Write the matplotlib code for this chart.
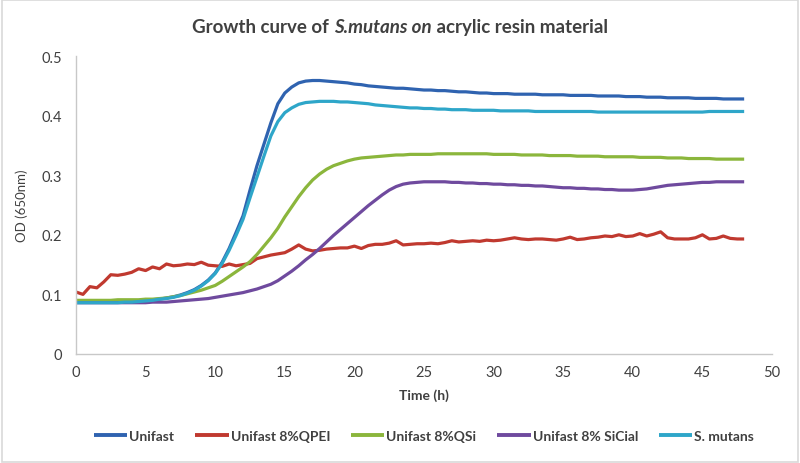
import matplotlib.pyplot as plt
from matplotlib.patches import Rectangle

# ---- data (0.5 h grid) ----
time_h = [i * 0.5 for i in range(97)]

unifast = [
    0.087, 0.087, 0.087, 0.087, 0.087, 0.087, 0.087, 0.088, 0.088, 0.089,
    0.090, 0.091, 0.092, 0.094, 0.096, 0.099, 0.103, 0.108, 0.115, 0.124,
    0.136, 0.154, 0.177, 0.204, 0.232, 0.275, 0.316, 0.352, 0.388, 0.420,
    0.438, 0.448, 0.455, 0.458, 0.459, 0.459, 0.458, 0.457, 0.456, 0.455,
    0.453, 0.452, 0.450, 0.449, 0.448, 0.447, 0.446, 0.446, 0.445, 0.444,
    0.443, 0.443, 0.442, 0.442, 0.441, 0.440, 0.440, 0.439, 0.438, 0.438,
    0.437, 0.437, 0.437, 0.436, 0.436, 0.436, 0.436, 0.435, 0.435, 0.435,
    0.435, 0.434, 0.434, 0.434, 0.434, 0.433, 0.433, 0.433, 0.433, 0.432,
    0.432, 0.432, 0.431, 0.431, 0.431, 0.430, 0.430, 0.430, 0.430, 0.429,
    0.429, 0.429, 0.429, 0.428, 0.428, 0.428, 0.428,
]

qpei = [
    0.104, 0.100, 0.113, 0.111, 0.121, 0.133, 0.132, 0.134, 0.137, 0.143,
    0.140, 0.146, 0.143, 0.151, 0.148, 0.149, 0.151, 0.150, 0.154, 0.149,
    0.148, 0.147, 0.151, 0.148, 0.150, 0.152, 0.160, 0.163, 0.166, 0.168,
    0.170, 0.176, 0.183, 0.176, 0.173, 0.174, 0.176, 0.177, 0.178, 0.178,
    0.181, 0.177, 0.182, 0.184, 0.184, 0.186, 0.190, 0.183, 0.184, 0.185,
    0.185, 0.186, 0.185, 0.187, 0.190, 0.188, 0.189, 0.190, 0.189, 0.191,
    0.190, 0.191, 0.193, 0.195, 0.193, 0.192, 0.193, 0.193, 0.192, 0.191,
    0.193, 0.196, 0.192, 0.193, 0.195, 0.196, 0.198, 0.197, 0.200, 0.197,
    0.198, 0.202, 0.198, 0.201, 0.205, 0.195, 0.193, 0.193, 0.193, 0.195,
    0.200, 0.193, 0.194, 0.198, 0.194, 0.193, 0.193,
]

qsi = [
    0.090, 0.090, 0.090, 0.090, 0.090, 0.090, 0.091, 0.091, 0.091, 0.091,
    0.092, 0.092, 0.093, 0.094, 0.096, 0.098, 0.101, 0.104, 0.107, 0.111,
    0.115, 0.122, 0.130, 0.138, 0.146, 0.155, 0.167, 0.181, 0.195, 0.211,
    0.230, 0.247, 0.264, 0.279, 0.292, 0.302, 0.310, 0.316, 0.320, 0.324,
    0.327, 0.329, 0.330, 0.331, 0.332, 0.333, 0.334, 0.334, 0.335, 0.335,
    0.335, 0.335, 0.336, 0.336, 0.336, 0.336, 0.336, 0.336, 0.336, 0.336,
    0.335, 0.335, 0.335, 0.335, 0.334, 0.334, 0.334, 0.334, 0.333, 0.333,
    0.333, 0.333, 0.332, 0.332, 0.332, 0.332, 0.331, 0.331, 0.331, 0.331,
    0.331, 0.330, 0.330, 0.330, 0.330, 0.329, 0.329, 0.329, 0.328, 0.328,
    0.328, 0.328, 0.327, 0.327, 0.327, 0.327, 0.327,
]

sicial = [
    0.086, 0.086, 0.086, 0.086, 0.086, 0.086, 0.086, 0.086, 0.086, 0.086,
    0.086, 0.087, 0.087, 0.087, 0.088, 0.089, 0.090, 0.091, 0.092, 0.093,
    0.095, 0.097, 0.099, 0.101, 0.103, 0.106, 0.109, 0.113, 0.117, 0.123,
    0.131, 0.139, 0.148, 0.158, 0.167, 0.177, 0.188, 0.199, 0.209, 0.219,
    0.229, 0.239, 0.249, 0.258, 0.267, 0.275, 0.281, 0.285, 0.287, 0.288,
    0.289, 0.289, 0.289, 0.289, 0.288, 0.288, 0.287, 0.287, 0.286, 0.286,
    0.285, 0.285, 0.284, 0.284, 0.283, 0.283, 0.282, 0.282, 0.281, 0.280,
    0.279, 0.279, 0.278, 0.278, 0.277, 0.277, 0.276, 0.276, 0.275, 0.275,
    0.275, 0.276, 0.277, 0.279, 0.281, 0.283, 0.284, 0.285, 0.286, 0.287,
    0.288, 0.288, 0.289, 0.289, 0.289, 0.289, 0.289,
]

smutans = [
    0.086, 0.086, 0.086, 0.086, 0.086, 0.086, 0.086, 0.087, 0.087, 0.088,
    0.089, 0.090, 0.092, 0.093, 0.095, 0.098, 0.102, 0.107, 0.114, 0.123,
    0.135, 0.152, 0.174, 0.199, 0.226, 0.262, 0.297, 0.332, 0.366, 0.390,
    0.405, 0.413, 0.419, 0.422, 0.423, 0.424, 0.424, 0.424, 0.423, 0.423,
    0.422, 0.421, 0.420, 0.418, 0.417, 0.416, 0.415, 0.414, 0.413, 0.413,
    0.412, 0.412, 0.411, 0.411, 0.410, 0.410, 0.410, 0.409, 0.409, 0.409,
    0.409, 0.408, 0.408, 0.408, 0.408, 0.408, 0.407, 0.407, 0.407, 0.407,
    0.407, 0.407, 0.407, 0.407, 0.407, 0.406, 0.406, 0.406, 0.406, 0.406,
    0.406, 0.406, 0.406, 0.406, 0.406, 0.406, 0.406, 0.406, 0.406, 0.406,
    0.406, 0.407, 0.407, 0.407, 0.407, 0.407, 0.407,
]

series_names = ['Unifast', 'Unifast 8%QPEI', 'Unifast 8%QSi', 'Unifast 8% SiCial', 'S. mutans']
series_vals = [unifast, qpei, qsi, sicial, smutans]
colors = ['#2f63b0', '#c0392f', '#8bb63c', '#6f4a9e', '#2ea6c9']

x_ticks = [0, 5, 10, 15, 20, 25, 30, 35, 40, 45, 50]
y_ticks = [0, 0.1, 0.2, 0.3, 0.4, 0.5]
y_ticklabels = ['0', '0.1', '0.2', '0.3', '0.4', '0.5']

# ---- figure ----
plt.rcParams['font.family'] = ['Lato', 'DejaVu Sans']
fig = plt.figure(figsize=(8, 4.64), dpi=100)
fig.patches.append(Rectangle((0.002, 0.002), 0.996, 0.996, transform=fig.transFigure,
                             fill=False, edgecolor='#d9d9d9', lw=1.2))

ax = fig.add_axes([0.095, 0.235, 0.87, 0.642])
for name, vals, c in zip(series_names, series_vals, colors):
    ax.plot(time_h, vals, color=c, lw=2.3, label=name, solid_capstyle='butt')

ax.set_xlim(0, 50)
ax.set_ylim(0, 0.5)
ax.set_xticks(x_ticks)
ax.set_yticks(y_ticks)
ax.set_yticklabels(y_ticklabels)
ax.tick_params(length=0, labelsize=10.5, labelcolor='#404040')
ax.tick_params(axis='x', pad=8)
ax.tick_params(axis='y', pad=10)
for s in ['top', 'right']:
    ax.spines[s].set_visible(False)
for s in ['left', 'bottom']:
    ax.spines[s].set_color('#c8c8c8')
    ax.spines[s].set_linewidth(1.0)

ax.set_xlabel('Time (h)', fontsize=10, fontweight='bold', color='#404040', labelpad=7)
ax.set_ylabel('OD (650nm)', fontsize=9.5, color='#404040', labelpad=10)

# title in three pieces: normal / bold-italic / normal
fig.canvas.draw()
r = fig.canvas.get_renderer()
pieces = [('Growth curve of ', 'normal'), ('S.mutans on', 'italic'), (' acrylic resin material', 'normal')]
tmp = [fig.text(0, 0, p, fontsize=13.5, fontweight='bold', style=st, color='#404040') for p, st in pieces]
widths = [t.get_window_extent(r).width for t in tmp]
x0 = 400 - sum(widths) / 2
for t, w in zip(tmp, widths):
    t.set_position((x0 / 800, 1 - 33 / 464))
    x0 += w

leg = fig.legend(loc='center', bbox_to_anchor=(0.53, 0.058), ncol=5, frameon=False,
                 fontsize=10, handlelength=2.4, columnspacing=1.5, handletextpad=0.15)
for t in leg.get_texts():
    t.set_color('#404040')
    t.set_fontweight('bold')
for h in leg.get_lines():
    h.set_linewidth(2.8)

fig.savefig('out.png', dpi=100)
